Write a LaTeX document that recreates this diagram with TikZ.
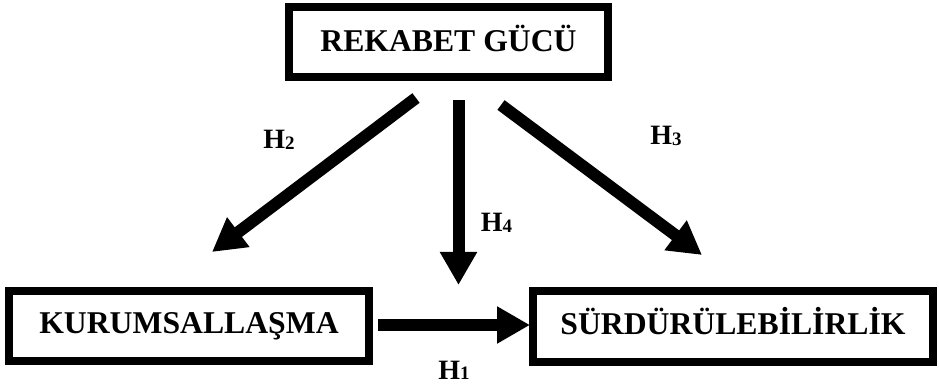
\documentclass[tikz,border=0pt]{standalone}
\usepackage{fontspec}
\setmainfont{Liberation Serif}
\usetikzlibrary{arrows.meta}
\tikzset{
  box/.style={draw=black, line width=8pt, fill=white, rectangle, inner sep=0pt,
    font=\fontsize{31.7}{34}\selectfont\bfseries, text height=21pt},
  bigarrow/.style={draw=black, line width=12pt, line cap=butt,
    -{Triangle[length=33pt,width=35pt]}},
  hlabel/.style={anchor=base, inner sep=0pt, font=\fontsize{28}{30}\selectfont\bfseries},
}
\newcommand{\hsub}[1]{H\raisebox{-0.8pt}{\fontsize{19}{20}\selectfont #1}}
\begin{document}
\begin{tikzpicture}[x=1pt,y=-1pt]
\useasboundingbox (0,0) rectangle (939,387);
\node[box, minimum width=319pt, minimum height=70pt, text depth=2pt] (rek) at (448.5,42) {REKABET GÜCÜ};
\node[box, minimum width=360pt, minimum height=70pt, text depth=6pt] (kur) at (189,326) {KURUMSALLAŞMA};
\node[box, minimum width=400pt, minimum height=71pt, text depth=6pt] (sur) at (733,326.5) {SÜRDÜRÜLEBİLİRLİK};

\coordinate (h2s) at (416,98);
\coordinate (h2e) at (212,252);
\coordinate (h4s) at (458.5,100);
\coordinate (h4e) at (458.5,285);
\coordinate (h3s) at (501,105);
\coordinate (h3e) at (702,255);
\coordinate (h1s) at (378,325);
\coordinate (h1e) at (530,325);

\draw[bigarrow] (h2s) -- (h2e);
\draw[bigarrow] (h4s) -- (h4e);
\draw[bigarrow] (h3s) -- (h3e);
\draw[bigarrow] (h1s) -- (h1e);

\node[hlabel] (l2) at (279,149) {\hsub{2}};
\node[hlabel] (l3) at (666,145) {\hsub{3}};
\node[hlabel] (l4) at (496.5,232) {\hsub{4}};
\node[hlabel] (l1) at (454,379) {\hsub{1}};
\end{tikzpicture}
\end{document}
